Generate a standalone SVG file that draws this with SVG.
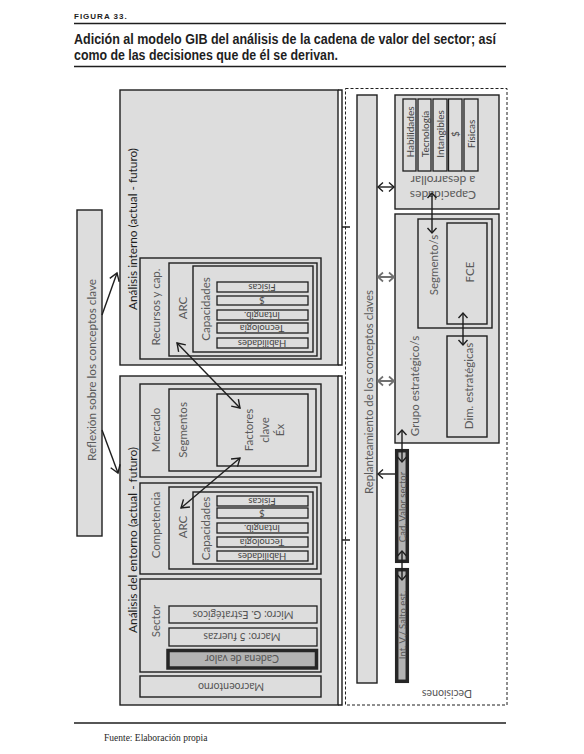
<svg xmlns="http://www.w3.org/2000/svg" width="584" height="754" viewBox="0 0 584 754">
<style>
text{font-family:Lato,"Open Sans","DejaVu Sans",sans-serif;}
.bx{fill:#dddddd;stroke:#1e1e1e;stroke-width:1.4;}
.it{fill:#dddddd;stroke:#1e1e1e;stroke-width:1.3;}
.dk{fill:#b3b3b3;stroke:#262626;stroke-width:3.5;}
.lb{fill:#5a5a5a;font-size:11.5px;}
.mn{fill:#1e1e1e;font-size:10.5px;}
.sm{fill:#444;font-size:9.5px;}
.md{fill:#555;font-size:10.5px;}
.c{text-anchor:middle;dominant-baseline:central;}
.ln{fill:none;stroke:#1e1e1e;stroke-width:1.4;}
.gl{fill:none;stroke:#707070;stroke-width:2;}
.hd{fill:none;stroke:#1e1e1e;stroke-width:1.4;}
.hg{fill:none;stroke:#707070;stroke-width:1.7;}
</style>
<defs>
<marker id="a" markerUnits="userSpaceOnUse" markerWidth="12" markerHeight="12" refX="8" refY="5" orient="auto-start-reverse" overflow="visible"><path class="hd" d="M0.5,0 L8,5 L0.5,10"/></marker>
<marker id="s" markerUnits="userSpaceOnUse" markerWidth="10" markerHeight="10" refX="5.5" refY="4.5" orient="auto-start-reverse" overflow="visible"><path class="hd" d="M0.5,0 L5.5,4.5 L0.5,9"/></marker>
<marker id="g" markerUnits="userSpaceOnUse" markerWidth="10" markerHeight="10" refX="5.5" refY="4.5" orient="auto-start-reverse" overflow="visible"><path class="hg" d="M0.5,0 L5.5,4.5 L0.5,9"/></marker>
</defs>
<rect width="584" height="754" fill="#fff"/>

<g id="header">
<text x="74" y="18.5" style="font-family:'Liberation Sans',Arial,sans-serif;font-weight:bold;font-size:8px;letter-spacing:1px" fill="#1e1e1e">FIGURA 33.</text>
<line x1="74" y1="23.5" x2="506" y2="23.5" stroke="#1e1e1e" stroke-width="1.3"/>
<text x="74" y="43.5" textLength="422" lengthAdjust="spacingAndGlyphs" style="font-family:'Liberation Sans',Arial,sans-serif;font-weight:bold;font-size:14px" fill="#1e1e1e">Adición al modelo GIB del análisis de la cadena de valor del sector; así</text>
<text x="74" y="60" textLength="264" lengthAdjust="spacingAndGlyphs" style="font-family:'Liberation Sans',Arial,sans-serif;font-weight:bold;font-size:14px" fill="#1e1e1e">como de las decisiones que de él se derivan.</text>
<line x1="74" y1="66.5" x2="506" y2="66.5" stroke="#1e1e1e" stroke-width="1.3"/>
</g>

<g id="reflexion">
<rect class="bx" x="77" y="210" width="25" height="326"/>
<text class="lb c" transform="translate(91 370) rotate(-90)" textLength="182" lengthAdjust="spacingAndGlyphs">Reflexión sobre los conceptos clave</text>
</g>

<g id="analisis-interno">
<rect class="bx" x="120" y="90" width="218" height="275"/>
<text class="mn c" transform="translate(132.5 229) rotate(-90)" textLength="162" lengthAdjust="spacingAndGlyphs">Análisis interno (actual - futuro)</text>
</g>
<g id="recursos">
<rect class="bx" x="140" y="258" width="181" height="101"/>
<text class="lb c" transform="translate(155.5 307) rotate(-90)">Recursos y cap.</text>
</g>
<g id="arc-interno">
<rect class="bx" x="169" y="263" width="148" height="93"/>
<text class="lb c" transform="translate(182 308) rotate(-90)">ARC</text>
</g>
<g id="capacidades-interno">
<rect class="bx" x="193" y="266" width="120" height="86"/>
<text class="lb c" transform="translate(205 309) rotate(-90)">Capacidades</text>
<rect class="it" x="217" y="282" width="91" height="10"/>
<text class="sm c" transform="translate(262 287) rotate(180)">Físicas</text>
<rect class="it" x="217" y="296" width="91" height="9"/>
<text class="sm c" transform="translate(262 300.5) rotate(180)">$</text>
<rect class="it" x="217" y="310" width="91" height="10"/>
<text class="sm c" transform="translate(262 315) rotate(180)">Intangib.</text>
<rect class="it" x="217" y="323" width="91" height="10"/>
<text class="sm c" transform="translate(262 328) rotate(180)">Tecnología</text>
<rect class="it" x="217" y="338" width="91" height="10"/>
<text class="sm c" transform="translate(262 343) rotate(180)">Habilidades</text>
</g>

<g id="analisis-entorno">
<rect class="bx" x="120" y="376" width="218" height="329"/>
<text class="mn c" transform="translate(132.5 540) rotate(-90)" textLength="186" lengthAdjust="spacingAndGlyphs">Análisis del entorno (actual - futuro)</text>
</g>
<g id="mercado">
<rect class="bx" x="140" y="384" width="181" height="93"/>
<text class="lb c" transform="translate(155.5 430) rotate(-90)">Mercado</text>
</g>
<g id="segmentos">
<rect class="bx" x="169" y="389" width="147" height="82"/>
<text class="lb c" transform="translate(182.5 430) rotate(-90)">Segmentos</text>
</g>
<g id="factores">
<rect class="bx" x="217" y="394" width="91" height="72"/>
<text class="lb" text-anchor="middle" transform="translate(253 430) rotate(-90)"><tspan x="0" dy="0">Factores</tspan><tspan x="0" dy="15.5">clave</tspan><tspan x="0" dy="15.5">Éx</tspan></text>
</g>
<g id="competencia">
<rect class="bx" x="140" y="483" width="181" height="91"/>
<text class="lb c" transform="translate(155.5 525) rotate(-90)">Competencia</text>
</g>
<g id="arc-entorno">
<rect class="bx" x="169" y="487" width="148" height="82"/>
<text class="lb c" transform="translate(182 527) rotate(-90)">ARC</text>
</g>
<g id="capacidades-entorno">
<rect class="bx" x="193" y="492" width="120" height="72"/>
<text class="lb c" transform="translate(205 528.5) rotate(-90)">Capacidades</text>
<rect class="it" x="217" y="496" width="91" height="10"/>
<text class="sm c" transform="translate(262 501) rotate(180)">Físicas</text>
<rect class="it" x="217" y="508" width="91" height="10"/>
<text class="sm c" transform="translate(262 513) rotate(180)">$</text>
<rect class="it" x="217" y="523" width="91" height="10"/>
<text class="sm c" transform="translate(262 528) rotate(180)">Intangib.</text>
<rect class="it" x="217" y="537" width="91" height="10"/>
<text class="sm c" transform="translate(262 542) rotate(180)">Tecnología</text>
<rect class="it" x="217" y="551" width="91" height="10"/>
<text class="sm c" transform="translate(262 556) rotate(180)">Habilidades</text>
</g>
<g id="sector">
<rect class="bx" x="140" y="579" width="181" height="93"/>
<text class="lb c" transform="translate(155.5 621) rotate(-90)">Sector</text>
<rect class="it" x="169" y="606" width="148" height="17"/>
<text class="md c" transform="translate(243 614.5) rotate(180)">Micro: G. Estratégicos</text>
<rect class="it" x="169" y="628" width="148" height="18"/>
<text class="md c" transform="translate(242 637) rotate(180)">Macro: 5 fuerzas</text>
</g>
<g id="cadena-valor">
<rect class="dk" x="168" y="650.5" width="148.5" height="17.5"/>
<text class="md c" transform="translate(242 659.3) rotate(180)">Cadena de valor</text>
</g>
<g id="macroentorno">
<rect class="bx" x="140" y="676" width="181" height="21"/>
<text class="md c" transform="translate(231 686.5) rotate(180)">Macroentorno</text>
</g>

<g id="decisiones">
<rect x="345.5" y="88.5" width="161.5" height="616.5" fill="none" stroke="#1e1e1e" stroke-width="1" stroke-dasharray="3 2"/>
<text class="md c" transform="translate(447 693.5) rotate(180)">Decisiones</text>
</g>
<g id="replanteamiento">
<rect class="bx" x="357" y="95" width="20" height="588"/>
<text class="lb c" transform="translate(368 392) rotate(-90)" textLength="204" lengthAdjust="spacingAndGlyphs">Replanteamiento de los conceptos claves</text>
</g>
<g id="capacidades-desarrollar">
<rect class="bx" x="395" y="95" width="104" height="114"/>
<text class="lb c" style="font-size:12px" transform="translate(443 180) rotate(180)">a desarrollar</text>
<text class="lb c" style="font-size:12px" transform="translate(443 195) rotate(180)">Capacidades</text>
<rect class="it" x="403" y="99" width="13" height="72"/>
<text class="sm c" style="font-size:10px" transform="translate(409.5 132) rotate(-90)">Habilidades</text>
<rect class="it" x="418" y="99" width="13" height="72"/>
<text class="sm c" style="font-size:10px" transform="translate(424.5 134) rotate(-90)">Tecnología</text>
<rect class="it" x="433" y="99" width="14" height="72"/>
<text class="sm c" style="font-size:10px" transform="translate(440 134) rotate(-90)">Intangibles</text>
<rect class="it" x="448.5" y="99" width="13.5" height="72"/>
<text class="sm c" style="font-size:10px" transform="translate(455.3 134) rotate(-90)">$</text>
<rect class="it" x="464" y="99" width="14" height="72"/>
<text class="sm c" style="font-size:10px" transform="translate(471 134) rotate(-90)">Físicas</text>
</g>
<g id="grupo-estrategico">
<rect class="bx" x="395" y="214" width="104" height="229"/>
<text class="lb c" transform="translate(414 386) rotate(-90)">Grupo estratégico/s</text>
</g>
<g id="segmento">
<rect class="bx" x="418" y="219" width="74" height="109"/>
<text class="lb c" transform="translate(433 265) rotate(-90)">Segmento/s</text>
</g>
<g id="fce">
<rect class="bx" x="447" y="223" width="40" height="101"/>
<text class="lb c" transform="translate(469 272) rotate(-90)">FCE</text>
</g>
<g id="dim-estrategicas">
<rect class="bx" x="447" y="336" width="40" height="101"/>
<text class="lb c" transform="translate(468 386) rotate(-90)">Dim. estratégicas</text>
</g>
<g id="cad-valor-sector">
<rect class="dk" x="396.7" y="450.7" width="10.6" height="110.6"/>
<text class="c" style="font-size:9.5px;fill:#555" transform="translate(402 507) rotate(-90)">Cad. Valor sector</text>
</g>
<g id="int-salto">
<rect class="dk" x="396.7" y="569.7" width="10.6" height="111.6"/>
<text class="c" style="font-size:9.5px;fill:#555" transform="translate(402 625) rotate(-90)">Int. V./ Salto est.</text>
</g>

<g id="connectors">
<path class="ln" d="M338,90 H342 V365 H338 M342,227 H350"/>
<path class="ln" d="M338,376 H342 V705 H338 M342,540 H350"/>
<line class="ln" x1="102" y1="315" x2="117" y2="273" marker-end="url(#a)"/>
<line class="ln" x1="102" y1="430" x2="118" y2="473" marker-end="url(#a)"/>
<line class="ln" x1="177" y1="343" x2="240" y2="408" marker-start="url(#a)" marker-end="url(#a)"/>
<line class="ln" x1="240" y1="458" x2="181" y2="508" marker-start="url(#a)" marker-end="url(#a)"/>
<line class="ln" x1="378" y1="187" x2="394" y2="187" marker-start="url(#s)" marker-end="url(#s)"/>
<line class="gl" x1="378" y1="277" x2="394" y2="277" marker-start="url(#g)" marker-end="url(#g)"/>
<line class="gl" x1="378" y1="381" x2="394" y2="381" marker-start="url(#g)" marker-end="url(#g)"/>
<line class="ln" x1="395" y1="474" x2="378" y2="474" marker-end="url(#s)"/>
<line class="ln" x1="432" y1="193" x2="432" y2="233" marker-start="url(#s)" marker-end="url(#s)"/>
<line class="ln" x1="463" y1="313" x2="463" y2="345" marker-start="url(#s)" marker-end="url(#s)"/>
<line class="ln" x1="402" y1="430" x2="402" y2="462" marker-start="url(#s)" marker-end="url(#s)"/>
<line class="ln" x1="402" y1="551" x2="402" y2="580" marker-start="url(#s)" marker-end="url(#s)"/>
</g>

<g id="footer">
<line x1="74" y1="723" x2="506" y2="723" stroke="#1e1e1e" stroke-width="1.3"/>
<text x="104" y="741" style="font-family:'Liberation Serif','Times New Roman',serif;font-size:9.5px" fill="#1e1e1e">Fuente: Elaboración propia</text>
</g>
</svg>
